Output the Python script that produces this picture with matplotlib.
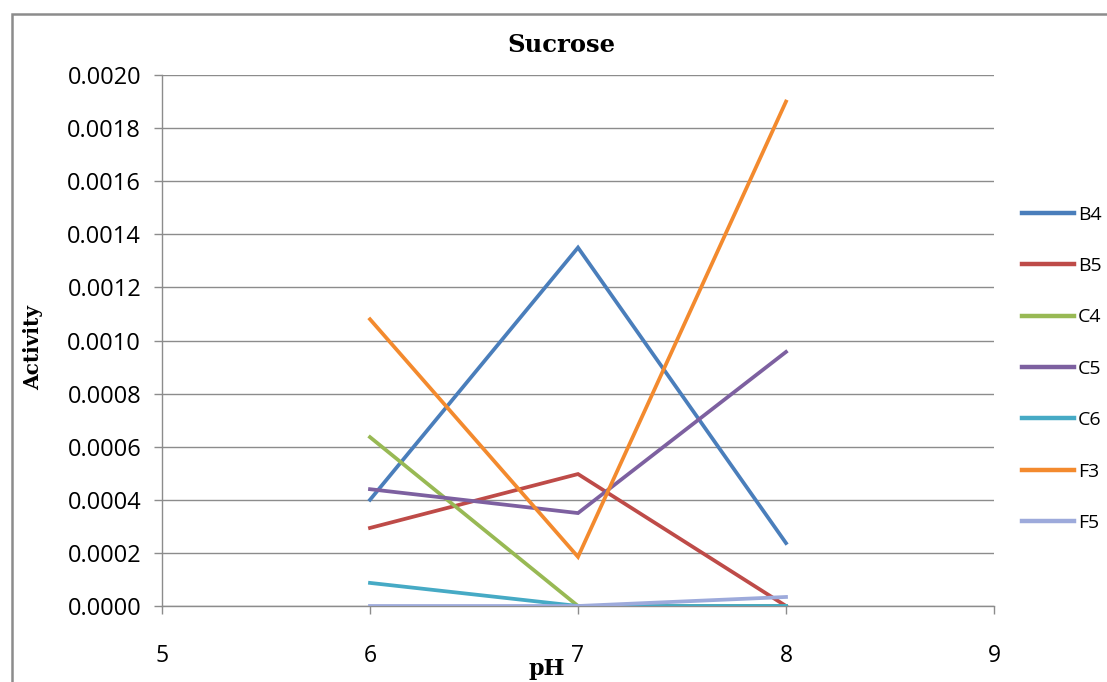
import matplotlib
matplotlib.use("Agg")
import matplotlib.pyplot as plt
from matplotlib.patches import Rectangle
from matplotlib.ticker import FixedLocator, FuncFormatter

ph = [6, 7, 8]
series_names = ["B4", "B5", "C4", "C5", "C6", "F3", "F5"]
b4 = [0.00040, 0.00135, 0.000237]
b5 = [0.000294, 0.000497, 0.0]
c4 = [0.000636, 0.0, 0.0]
c5 = [0.00044, 0.00035, 0.000957]
c6 = [0.000087, 0.0, 0.0]
f3 = [0.00108, 0.000185, 0.0019]
f5 = [0.0, 0.0, 0.000034]
colors = ["#4A7EBB", "#BE4B48", "#98B954", "#7D60A0", "#46AAC5", "#F38A2E", "#9DAADB"]
x_ticks = [5, 6, 7, 8, 9]
y_ticks = [0.0, 0.0002, 0.0004, 0.0006, 0.0008, 0.0010, 0.0012, 0.0014, 0.0016, 0.0018, 0.0020]

W, H = 1107, 682
fig = plt.figure(figsize=(W / 100, H / 100), dpi=100)
fig.patches.append(Rectangle((12 / W, -0.1), 1.2, (H - 14) / H + 0.1, transform=fig.transFigure,
                             fill=False, edgecolor="#8c8c8c", linewidth=1.8))

ax = fig.add_axes([162 / W, 1 - 606 / H, (994 - 162) / W, (606 - 75) / H])
data = [b4, b5, c4, c5, c6, f3, f5]
lines = []
for i in range(len(series_names)):
    ln, = ax.plot(ph, data[i], color=colors[i], linewidth=2.7, label=series_names[i],
                  solid_joinstyle="miter", zorder=3 + i)
    lines.append(ln)

ax.set_xlim(5, 9)
ax.set_ylim(0, 0.0020)
ax.xaxis.set_major_locator(FixedLocator(x_ticks))
ax.yaxis.set_major_locator(FixedLocator(y_ticks))
ax.yaxis.set_major_formatter(FuncFormatter(lambda v, p: f"{v:.4f}"))
ax.xaxis.set_major_formatter(FuncFormatter(lambda v, p: f"{v:g}"))
ax.grid(axis="y", color="#8c8c8c", linewidth=1.0)
ax.set_axisbelow(True)
for s in ["top", "right"]:
    ax.spines[s].set_visible(False)
for s in ["left", "bottom"]:
    ax.spines[s].set_color("#8c8c8c")
    ax.spines[s].set_linewidth(1.0)
ax.tick_params(axis="both", colors="#8c8c8c", length=6, width=1.0, labelcolor="black",
               labelsize=16.5)
ax.tick_params(axis="y", labelsize=17, pad=9)
ax.tick_params(axis="x", pad=21)
for lab in ax.get_xticklabels() + ax.get_yticklabels():
    lab.set_fontfamily("Open Sans")

fig.text(561 / W, 1 - 45 / H, "Sucrose", fontfamily="DejaVu Serif", fontweight="bold",
         fontsize=17.5, ha="center", va="center")
ax.set_xlabel("pH", fontfamily="DejaVu Serif", fontweight="bold", fontsize=16, va="center")
ax.xaxis.set_label_coords((547 - 162) / 832, (606 - 669) / 531)
ax.set_ylabel("Activity", fontfamily="DejaVu Serif", fontweight="bold", fontsize=14.5,
              va="center", ha="center")
ax.yaxis.set_label_coords((33 - 162) / 832, (606 - 348) / 531)

leg = fig.legend(handles=lines, labels=series_names, loc="upper left",
                 bbox_to_anchor=(1004 / W, 1 - 188 / H), frameon=False,
                 prop={"family": "Open Sans", "size": 14}, labelspacing=1.72,
                 handlelength=2.7, handletextpad=0.2)
for h in leg.get_lines():
    h.set_linewidth(3.2)

fig.savefig("out.png", dpi=100)
